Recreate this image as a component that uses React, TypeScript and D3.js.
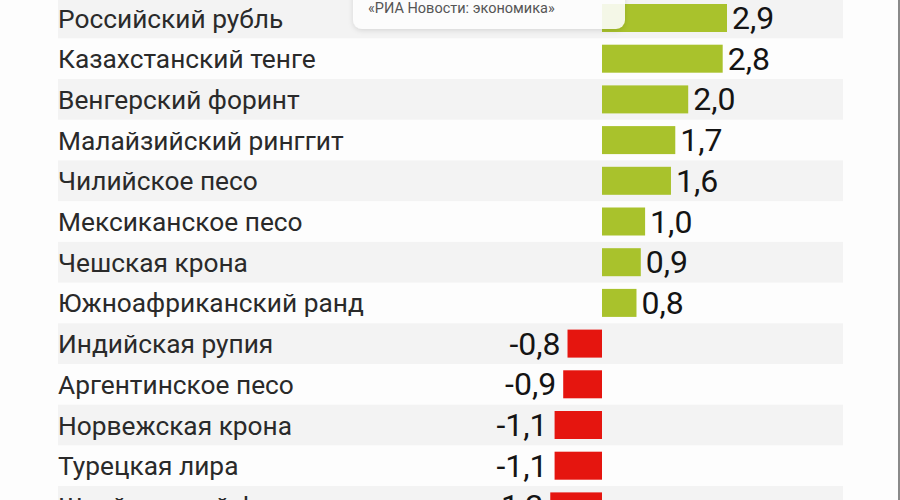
import { useEffect, useRef } from 'react';
import { select, scaleBand, scaleLinear } from 'd3';

const currencies = [
  'Российский рубль',
  'Казахстанский тенге',
  'Венгерский форинт',
  'Малайзийский ринггит',
  'Чилийское песо',
  'Мексиканское песо',
  'Чешская крона',
  'Южноафриканский ранд',
  'Индийская рупия',
  'Аргентинское песо',
  'Норвежская крона',
  'Турецкая лира',
  'Швейцарский франк',
];

const changes = [2.9, 2.8, 2.0, 1.7, 1.6, 1.0, 0.9, 0.8, -0.8, -0.9, -1.1, -1.1, -1.2];

const sourceNote = '«РИА Новости: экономика»';

const colors = {
  up: '#a9c22c',
  down: '#e5150f',
  stripe: '#f3f3f3',
  bg: '#fdfdfd',
  label: '#2a2a2a',
  value: '#141414',
};

const rows = currencies.map((name, i) => ({ name, value: changes[i] }));

export default function App() {
  const svgRef = useRef<SVGSVGElement>(null);

  useEffect(() => {
    document.body.style.margin = '0';
    if (!svgRef.current) return;

    const svg = select(svgRef.current);
    svg.selectAll('*').remove();

    const width = 900;
    const height = 500;
    const step = 40.7;
    const barH = 28;
    const top = 18 - step / 2;

    // Scales
    const x = scaleLinear().domain([0, 2.9]).range([602, 727]);
    const y = scaleBand<string>()
      .domain(currencies)
      .range([top, top + step * currencies.length])
      .padding(0);

    svg.append('rect').attr('width', width).attr('height', height).attr('fill', colors.bg);

    // Shadow for the source badge
    const defs = svg.append('defs');
    const f = defs.append('filter').attr('id', 'shadow').attr('x', '-10%').attr('y', '-50%').attr('width', '120%').attr('height', '200%');
    f.append('feDropShadow').attr('dx', 0).attr('dy', 1.5).attr('stdDeviation', 2.5).attr('flood-color', '#000').attr('flood-opacity', 0.14);

    // Alternating row stripes
    svg.selectAll('.stripe')
      .data(rows.filter((_, i) => i % 2 === 0))
      .enter()
      .append('rect')
      .attr('x', 58)
      .attr('y', (d) => y(d.name) || 0)
      .attr('width', 843 - 58)
      .attr('height', y.bandwidth())
      .attr('fill', colors.stripe);

    const g = svg.append('g').style('font-family', 'Roboto, sans-serif');

    // Bars
    g.selectAll('.bar')
      .data(rows)
      .enter()
      .append('rect')
      .attr('x', (d) => x(Math.min(0, d.value)))
      .attr('y', (d) => (y(d.name) || 0) + (y.bandwidth() - barH) / 2)
      .attr('width', (d) => Math.abs(x(d.value) - x(0)))
      .attr('height', barH)
      .attr('fill', (d) => (d.value >= 0 ? colors.up : colors.down));

    // Currency names
    g.selectAll('.label')
      .data(rows)
      .enter()
      .append('text')
      .attr('x', 58)
      .attr('y', (d) => (y(d.name) || 0) + y.bandwidth() / 2 + 9.5)
      .attr('font-size', 26.3)
      .attr('fill', colors.label)
      .text((d) => d.name);

    // Values
    g.selectAll('.value')
      .data(rows)
      .enter()
      .append('text')
      .attr('x', (d) => (d.value >= 0 ? x(d.value) + 5 : x(d.value) - 7))
      .attr('y', (d) => (y(d.name) || 0) + y.bandwidth() / 2 + 11)
      .attr('text-anchor', (d) => (d.value >= 0 ? 'start' : 'end'))
      .attr('font-size', 32)
      .attr('fill', colors.value)
      .text((d) => d.value.toFixed(1).replace('.', ','));

    // Source badge
    svg.append('rect')
      .attr('x', 353)
      .attr('y', -12)
      .attr('width', 272)
      .attr('height', 41)
      .attr('rx', 9)
      .attr('fill', '#ffffff')
      .attr('fill-opacity', 0.88)
      .attr('filter', 'url(#shadow)');

    svg.append('text')
      .attr('x', 368)
      .attr('y', 13)
      .attr('font-family', 'Roboto, sans-serif')
      .attr('font-size', 14.5)
      .attr('fill', '#555')
      .text(sourceNote);

    // Right screen edge
    svg.append('rect').attr('x', 898).attr('y', 0).attr('width', 2).attr('height', height).attr('fill', '#8a8a8a');
  }, []);

  return <svg ref={svgRef} width={900} height={500} style={{ display: 'block' }} />;
}
